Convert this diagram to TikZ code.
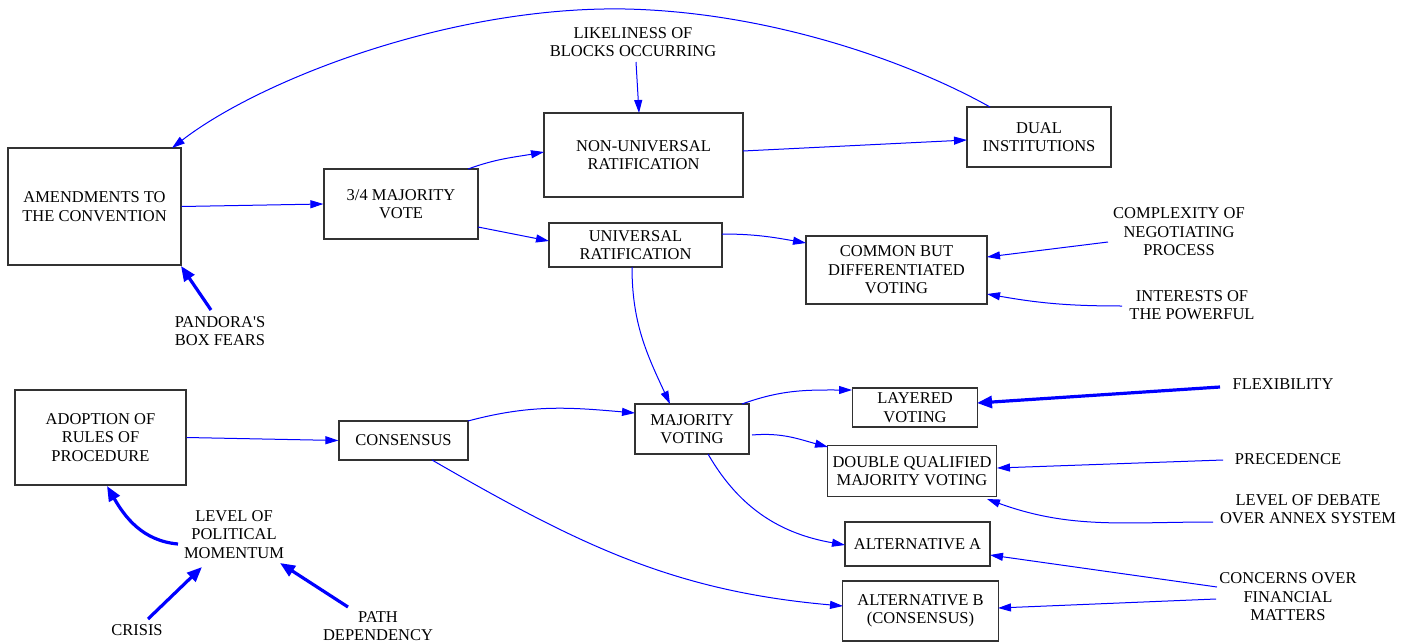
\documentclass[tikz,border=0pt]{standalone}
\usepackage{fontspec}
\setmainfont{Liberation Serif}
\usetikzlibrary{arrows.meta}
\definecolor{edgeblue}{RGB}{0,0,255}
\definecolor{boxgray}{RGB}{50,50,50}
\tikzset{
  lbl/.style={font=\fontsize{16.5}{18.5}\selectfont, align=center, inner sep=0pt, text=black},
  box/.style={lbl, draw=boxgray, line width=1.2pt},
  thin/.style={draw=edgeblue, line width=1pt, -{Triangle[length=13pt,width=8pt]}},
  thick/.style={draw=edgeblue, line width=3.2pt, -{Triangle[length=15pt,width=12pt]}},
}
\begin{document}
\begin{tikzpicture}[x=1pt,y=-1pt]
\useasboundingbox[fill=white] (0,0) rectangle (1415,642);
% boxes
\node[box, minimum width=173pt, minimum height=117pt] (amend) at (94.5,206.5) {AMENDMENTS TO\\THE CONVENTION};
\node[box, minimum width=154pt, minimum height=70pt] (vote) at (401,204) {3/4 MAJORITY\\VOTE};
\node[box, minimum width=199pt, minimum height=84pt] (nonu) at (643.5,155) {NON-UNIVERSAL\\RATIFICATION};
\node[box, minimum width=144pt, minimum height=60pt] (dual) at (1039,137) {DUAL\\INSTITUTIONS};
\node[box, minimum width=173pt, minimum height=44pt] (univ) at (635.5,245) {UNIVERSAL\\RATIFICATION};
\node[box, minimum width=181pt, minimum height=68pt] (common) at (896.5,270) {COMMON BUT\\DIFFERENTIATED\\VOTING};
\node[box, minimum width=171pt, minimum height=95pt] (adopt) at (100.5,437.5) {ADOPTION OF\\RULES OF\\PROCEDURE};
\node[box, minimum width=129pt, minimum height=39pt] (cons) at (403.5,440.5) {CONSENSUS};
\node[box, minimum width=114pt, minimum height=50pt] (mv) at (692,429) {MAJORITY\\VOTING};
\node[box, minimum width=125pt, minimum height=39pt] (layered) at (915,407.5) {LAYERED\\VOTING};
\node[box, minimum width=169pt, minimum height=51pt] (dqmv) at (912,471) {DOUBLE QUALIFIED\\MAJORITY VOTING};
\node[box, minimum width=145pt, minimum height=44pt] (alta) at (917.5,544) {ALTERNATIVE A};
\node[box, minimum width=156pt, minimum height=60pt] (altb) at (920.5,611) {ALTERNATIVE B\\(CONSENSUS)};
% free texts
\node[lbl] (likely) at (633,42) {LIKELINESS OF\\BLOCKS OCCURRING};
\node[lbl] (complex) at (1179,232) {COMPLEXITY OF\\NEGOTIATING\\PROCESS};
\node[lbl] (interests) at (1192,305) {INTERESTS OF\\THE POWERFUL};
\node[lbl] (pandora) at (220,331) {PANDORA\textquotesingle S\\BOX FEARS};
\node[lbl] (lpm) at (234,534.5) {LEVEL OF\\POLITICAL\\MOMENTUM};
\node[lbl] (crisis) at (137,630) {CRISIS};
\node[lbl] (path) at (378,626) {PATH\\DEPENDENCY};
\node[lbl] (flex) at (1283,384) {FLEXIBILITY};
\node[lbl] (prec) at (1288,459) {PRECEDENCE};
\node[lbl] (debate) at (1308,509) {LEVEL OF DEBATE\\OVER ANNEX SYSTEM};
\node[lbl] (concerns) at (1288,597) {CONCERNS OVER\\FINANCIAL\\MATTERS};
\coordinate (apex) at (625,9);
% connectors
\draw[thin] ([shift={(-49,-30)}]dual.center) .. controls (910,62) and (770,12) .. (apex)
  .. controls (450,6) and (260,80) .. ([shift={(77.5,-58.5)}]amend.center);
\draw[thin] (amend.east) -- (vote.west);
\draw[thin] ([shift={(67,-35)}]vote.center) to[out=20,in=190] ([shift={(-99.5,-3)}]nonu.center);
\draw[thin] ([shift={(77,23)}]vote.center) -- ([shift={(-86.5,-4)}]univ.center);
\draw[thin] ([shift={(3,20)}]likely.center) -- ([shift={(-4.5,-42)}]nonu.center);
\draw[thin] ([shift={(99.5,-4)}]nonu.center) -- ([shift={(-72,3)}]dual.center);
\draw[thin] ([shift={(86.5,-11)}]univ.center) to[out=0,in=170] ([shift={(-90.5,-27)}]common.center);
\draw[thin] ([shift={(-71,10)}]complex.center) -- ([shift={(90.5,-13)}]common.center);
\draw[thin] ([shift={(-70,1)}]interests.center) to[out=180,in=-10] ([shift={(90.5,24)}]common.center);
\draw[thin] ([shift={(-3.5,22)}]univ.center) to[out=-90,in=115] ([shift={(-22,-25)}]mv.center);
\draw[thin] (adopt.east) -- (cons.west);
\draw[thin] ([shift={(64.5,-19.5)}]cons.center) to[out=15,in=175] ([shift={(-57,-16)}]mv.center);
\draw[thin] ([shift={(28.5,19.5)}]cons.center) to[out=-30,in=175] ([shift={(-77.5,-5)}]altb.center);
\draw[thin] ([shift={(50,-25)}]mv.center) to[out=20,in=180] ([shift={(-63,-17.5)}]layered.center);
\draw[thin] ([shift={(60,6)}]mv.center) to[out=5,in=165] ([shift={(-84,-24)}]dqmv.center);
\draw[thin] ([shift={(16,25)}]mv.center) to[out=-60,in=170] ([shift={(-72.5,1)}]alta.center);
\draw[thick] ([shift={(-63,3)}]flex.center) -- ([shift={(62,-4.5)}]layered.center);
\draw[thin] ([shift={(-65,1)}]prec.center) -- ([shift={(85,-3)}]dqmv.center);
\draw[thin] ([shift={(-95,13)}]debate.center) to[out=180,in=-20] ([shift={(75,28)}]dqmv.center);
\draw[thin] ([shift={(-71,-10)}]concerns.center) -- ([shift={(72.5,11)}]alta.center);
\draw[thin] ([shift={(-72,2)}]concerns.center) -- ([shift={(77.5,-3)}]altb.center);
\draw[thick] ([shift={(-9,-21)}]pandora.center) -- ([shift={(86.5,59.5)}]amend.center);
\draw[thick] ([shift={(-56,9.5)}]lpm.center) to[out=175,in=-60] ([shift={(6.5,48.5)}]adopt.center);
\draw[thick] ([shift={(11,-11)}]crisis.center) -- ([shift={(-32,32.5)}]lpm.center);
\draw[thick] ([shift={(-30,-19)}]path.center) -- ([shift={(46,28.5)}]lpm.center);
\end{tikzpicture}
\end{document}
